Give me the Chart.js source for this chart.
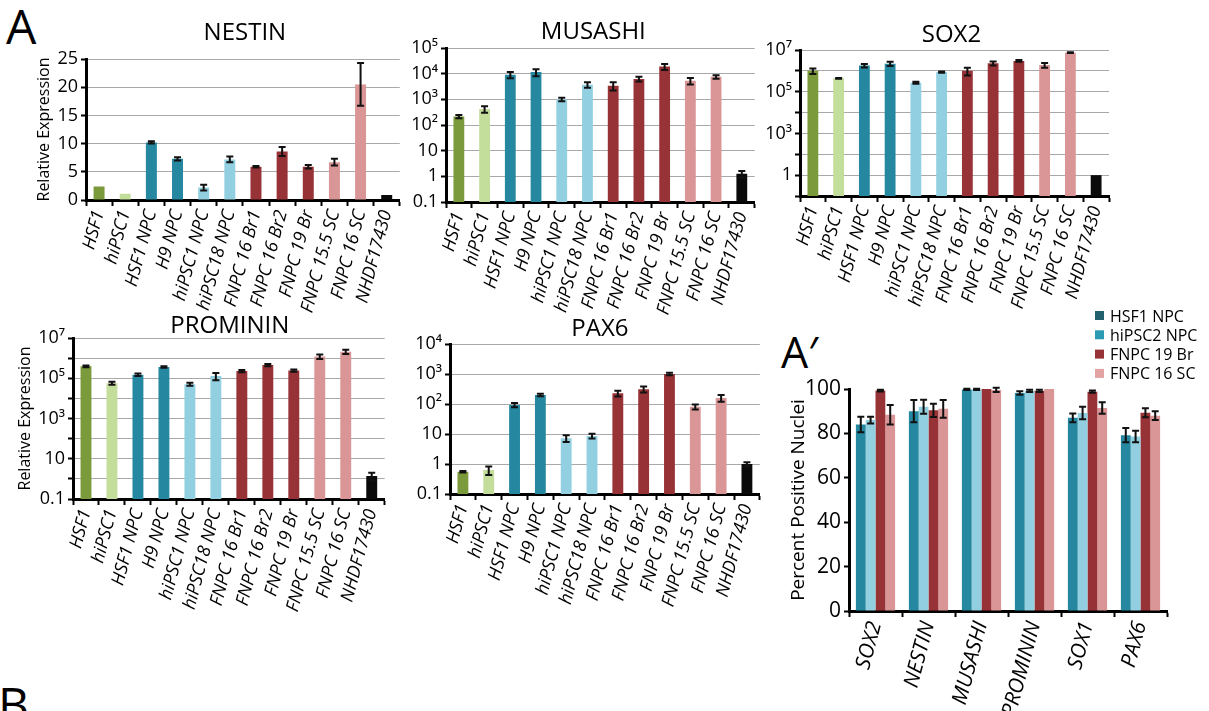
<!DOCTYPE html>
<html><head><meta charset="utf-8">
<script src="https://cdn.jsdelivr.net/npm/chart.js@4.4.0/dist/chart.umd.min.js"></script>
<style>
html,body{margin:0;padding:0;background:#fff;}
body{width:1209px;height:711px;position:relative;overflow:hidden;font-family:'Open Sans',sans-serif;}
.panel{position:absolute;}
.panel canvas{display:block;}
.letter{position:absolute;font-family:'Open Sans',sans-serif;line-height:1;color:#000;font-weight:400;}
</style></head><body>
<div class="letter" style="left:6px;top:2px;font-size:48px">A</div>
<div class="letter" style="left:781px;top:330px;font-size:43px">A′</div>
<div class="letter" style="left:-2px;top:680px;font-size:48px">B</div>

<div class="panel" style="left:0;top:0"><canvas id="nestin" width="410" height="325"></canvas></div>
<div class="panel" style="left:405px;top:0"><canvas id="musashi" width="360" height="325"></canvas></div>
<div class="panel" style="left:760px;top:0"><canvas id="sox2" width="360" height="325"></canvas></div>
<div class="panel" style="left:0;top:290px"><canvas id="prominin" width="395" height="335"></canvas></div>
<div class="panel" style="left:405px;top:290px"><canvas id="pax6" width="365" height="335"></canvas></div>
<div class="panel" style="left:770px;top:260px"><canvas id="aprime" width="439" height="451"></canvas></div>

<script>
// ---------------- DATA ----------------
const categories = ['HSF1','hiPSC1','HSF1 NPC','H9 NPC','hiPSC1 NPC','hiPSC18 NPC','FNPC 16 Br1','FNPC 16 Br2','FNPC 19 Br','FNPC 15.5 SC','FNPC 16 SC','NHDF17430'];

const nestinValues = [2.4, 1.1, 10.2, 7.3, 2.2, 7.2, 5.9, 8.6, 5.9, 6.7, 20.5, 0.9];
const nestinErrors = [0, 0, 0.2, 0.3, 0.5, 0.5, 0.15, 0.8, 0.3, 0.6, 3.8, 0];

const musashiValues = [215, 420, 9100, 11500, 1000, 3700, 3400, 6200, 19000, 5300, 7500, 1.26];
const musashiErrors = [30, 120, 2500, 3500, 150, 900, 1200, 1300, 5000, 1500, 1200, 0.35];

const sox2Values = [1.0e6, 4.4e5, 1.8e6, 2.2e6, 2.7e5, 8.7e5, 1.0e6, 2.3e6, 3.0e6, 1.9e6, 7.4e6, 10];
const sox2Errors = [3e5, 2e4, 3.5e5, 5e5, 3e4, 5e4, 4e5, 5e5, 3e5, 5e5, 3e5, 0];

const promininValues = [3.9e5, 5.7e4, 1.5e5, 3.6e5, 5.1e4, 1.3e5, 2.3e5, 4.5e5, 2.4e5, 1.2e6, 2.1e6, 1.4];
const promininErrors = [4e4, 1e4, 2e4, 3e4, 8e3, 5e4, 3e4, 6e4, 3e4, 3e5, 5e5, 0.6];

const pax6Values = [0.55, 0.63, 93, 200, 7.2, 8.6, 228, 310, 1000, 81, 158, 1.0];
const pax6Errors = [0.03, 0.2, 15, 20, 1.8, 1.5, 50, 70, 100, 15, 40, 0.15];

// tick values and tick labels
const nestinTickStep = 5;
const musashiTicks = [0.1, 1, 10, 100, 1e3, 1e4, 1e5];
const musashiTickLabels = ['0.1', '1', '10', '10²', '10³', '10⁴', '10⁵'];
const sox2Ticks = [1, 10, 100, 1e3, 1e4, 1e5, 1e6, 1e7];
const sox2TickLabels = ['', '1', '', '10³', '', '10⁵', '', '10⁷'];
const promininTicks = [0.1, 1, 10, 100, 1e3, 1e4, 1e5, 1e6, 1e7];
const promininTickLabels = ['0.1', '', '10', '', '10³', '', '10⁵', '', '10⁷'];
const pax6Ticks = [0.1, 1, 10, 100, 1e3, 1e4];
const pax6TickLabels = ['0.1', '1', '10', '10²', '10³', '10⁴'];

const markers = ['SOX2','NESTIN','MUSASHI','PROMININ','SOX1','PAX6'];
const seriesNames = ['HSF1 NPC','hiPSC2 NPC','FNPC 19 Br','FNPC 16 SC'];
const hsf1NpcPct   = [84, 90, 99.8, 98.2, 87, 79.2];
const hsf1NpcErr   = [3.5, 5, 0.3, 0.8, 2, 3.2];
const hipsc2NpcPct = [86, 92, 99.8, 99.2, 89.2, 78.6];
const hipsc2NpcErr = [1.5, 3.2, 0.3, 0.5, 2.8, 2.6];
const fnpc19BrPct  = [99.3, 90.4, 100, 99.2, 98.8, 89.3];
const fnpc19BrErr  = [0.4, 3, 0, 0.5, 0.5, 2];
const fnpc16ScPct  = [88.4, 91.1, 99.6, 100, 91.4, 88];
const fnpc16ScErr  = [4.4, 4, 1, 0, 2.6, 2];

// ---------------- STYLES ----------------
const FONT = "'Open Sans', 'Noto Sans', 'DejaVu Sans', sans-serif";
Chart.defaults.font.family = FONT;
Chart.defaults.color = '#000';
const C = {green:'#7b9a3c', lgreen:'#c3dd9b', teal:'#2587a0', lblue:'#92cfe0', red:'#973236', pink:'#da9596', black:'#0a0a0a'};
const barColors = [C.green, C.lgreen, C.teal, C.teal, C.lblue, C.lblue, C.red, C.red, C.red, C.pink, C.pink, C.black];
const aBarColors = [C.teal, C.lblue, C.red, C.pink];
const aLegendColors = ['#22616d', '#2b9bb3', '#973236', '#e3a3a3'];
const LABEL_ROT = 75;

// ---------------- PLUGINS ----------------
const errorBarPlugin = {
  id: 'errorBars',
  afterDatasetsDraw(chart) {
    const ctx = chart.ctx, y = chart.scales.y;
    chart.data.datasets.forEach((ds, di) => {
      if (!ds.errors) return;
      const meta = chart.getDatasetMeta(di);
      meta.data.forEach((bar, i) => {
        const v = ds.data[i], e = ds.errors[i];
        if (!e) return;
        const yTop = y.getPixelForValue(v + e);
        const yBot = y.getPixelForValue(Math.max(v - e, y.min));
        const cap = 3.5;
        ctx.save();
        ctx.strokeStyle = '#111'; ctx.lineWidth = 2;
        ctx.beginPath();
        ctx.moveTo(bar.x, yTop); ctx.lineTo(bar.x, yBot);
        ctx.moveTo(bar.x - cap, yTop); ctx.lineTo(bar.x + cap, yTop);
        ctx.moveTo(bar.x - cap, yBot); ctx.lineTo(bar.x + cap, yBot);
        ctx.stroke();
        ctx.restore();
      });
    });
  }
};
const panelTitlePlugin = {
  id: 'panelTitle',
  afterDraw(chart, args, opts) {
    if (!opts || !opts.text) return;
    const {ctx, chartArea} = chart;
    ctx.save();
    ctx.font = (opts.size || 24) + 'px ' + FONT;
    ctx.fillStyle = '#000'; ctx.textAlign = 'center'; ctx.textBaseline = 'middle';
    ctx.fillText(opts.text, (chartArea.left + chartArea.right) / 2 + (opts.dx || 0), chartArea.top - opts.offset);
    ctx.restore();
  }
};
const sideLegendPlugin = {
  id: 'sideLegend',
  afterDraw(chart, args, opts) {
    if (!opts || opts.x === undefined) return;
    const ctx = chart.ctx;
    ctx.save();
    ctx.font = opts.size + 'px ' + FONT;
    ctx.textBaseline = 'middle'; ctx.textAlign = 'left';
    chart.data.datasets.forEach((ds, i) => {
      const yy = opts.y + i * opts.spacing;
      ctx.fillStyle = opts.colors[i];
      ctx.fillRect(opts.x, yy - 6, 9, 9);
      ctx.fillStyle = '#000';
      ctx.fillText(ds.label, opts.x + 15, yy);
    });
    ctx.restore();
  }
};
Chart.register(errorBarPlugin, panelTitlePlugin, sideLegendPlugin);

// ---------------- BUILDERS ----------------
function xScale(fontSize, height) {
  return {
    type: 'category',
    grid: {display: true, drawOnChartArea: false, drawTicks: true, tickLength: 6, tickColor: '#000', tickWidth: 2, offset: true},
    border: {display: true, color: '#000', width: 3},
    ticks: {minRotation: LABEL_ROT, maxRotation: LABEL_ROT, autoSkip: false, color: '#000', padding: 2,
            font: {family: FONT, size: fontSize, style: 'italic'}},
    afterFit: s => { s.height = height; }
  };
}
function yCommon(width, titleText, titleSize) {
  return {
    grid: {color: '#a9a9a9', lineWidth: 1, drawTicks: true, tickLength: 5, tickColor: '#000', tickWidth: 2},
    border: {display: true, color: '#000', width: 3},
    title: {display: !!titleText, text: titleText || '', font: {family: FONT, size: titleSize || 16}, color: '#000', padding: {top: 4, bottom: 4}},
    afterFit: s => { s.width = width; }
  };
}
function logY(width, tickVals, tickLabels, titleText) {
  const y = yCommon(width, titleText, 16);
  y.type = 'logarithmic';
  y.min = tickVals[0];
  y.max = tickVals[tickVals.length - 1];
  y.afterBuildTicks = s => { s.ticks = tickVals.map(v => ({value: v})); };
  y.ticks = {font: {family: FONT, size: 18}, color: '#000', padding: 3, autoSkip: false,
             callback: (v, i) => tickLabels[i]};
  return y;
}
function smallChart(id, values, errors, yScale, geom, title) {
  return new Chart(document.getElementById(id), {
    type: 'bar',
    data: {labels: categories, datasets: [{data: values, errors: errors, backgroundColor: barColors,
      barPercentage: 0.42, categoryPercentage: 1.0, borderWidth: 0}]},
    options: {
      responsive: false, animation: false,
      layout: {padding: geom.padding},
      plugins: {legend: {display: false}, tooltip: {enabled: false},
                panelTitle: {text: title, offset: geom.titleOffset, dx: geom.titleDx || 0, size: 24}},
      scales: {x: xScale(18, geom.xHeight), y: yScale}
    }
  });
}

// ---------------- CHARTS ----------------
const nestinY = yCommon(55, 'Relative Expression', 16);
nestinY.type = 'linear'; nestinY.min = 0; nestinY.max = 25;
nestinY.ticks = {stepSize: nestinTickStep, font: {family: FONT, size: 18}, color: '#000', padding: 3};
smallChart('nestin', nestinValues, nestinErrors, nestinY,
  {padding: {left: 31, top: 59, right: 10, bottom: 0}, xHeight: 125, titleOffset: 26, titleDx: 2}, 'NESTIN');

smallChart('musashi', musashiValues, musashiErrors, logY(41, musashiTicks, musashiTickLabels),
  {padding: {left: 0, top: 48, right: 8, bottom: 0}, xHeight: 123, titleOffset: 16, titleDx: -7}, 'MUSASHI');

smallChart('sox2', sox2Values, sox2Errors, logY(40, sox2Ticks, sox2TickLabels),
  {padding: {left: 0, top: 50, right: 11, bottom: 0}, xHeight: 129, titleOffset: 15, titleDx: -3}, 'SOX2');

smallChart('prominin', promininValues, promininErrors, logY(61, promininTicks, promininTickLabels, 'Relative Expression'),
  {padding: {left: 12, top: 48, right: 10, bottom: 0}, xHeight: 126, titleOffset: 12, titleDx: 1}, 'PROMININ');

smallChart('pax6', pax6Values, pax6Errors, logY(45, pax6Ticks, pax6TickLabels),
  {padding: {left: 0, top: 54, right: 5, bottom: 0}, xHeight: 131, titleOffset: 15, titleDx: -5}, 'PAX6');

// A' grouped chart
const aPct = [hsf1NpcPct, hipsc2NpcPct, fnpc19BrPct, fnpc16ScPct];
const aErr = [hsf1NpcErr, hipsc2NpcErr, fnpc19BrErr, fnpc16ScErr];
const aY = yCommon(66, 'Percent Positive Nuclei', 19);
aY.type = 'linear'; aY.min = 0; aY.max = 100;
aY.grid = {drawOnChartArea: false, drawTicks: true, tickLength: 5, tickColor: '#000', tickWidth: 2};
aY.ticks = {stepSize: 10, font: {family: FONT, size: 21}, color: '#000', padding: 3,
            callback: v => (v % 20 === 0 ? String(v) : '')};
new Chart(document.getElementById('aprime'), {
  type: 'bar',
  data: {labels: markers, datasets: seriesNames.map((n, i) => ({
    label: n, data: aPct[i], errors: aErr[i], backgroundColor: aBarColors[i],
    barPercentage: 1.0, categoryPercentage: 0.74, borderWidth: 0}))},
  options: {
    responsive: false, animation: false,
    layout: {padding: {left: 13, top: 129, right: 42, bottom: 0}},
    plugins: {legend: {display: false}, tooltip: {enabled: false},
              sideLegend: {x: 325, y: 57, spacing: 19.3, size: 16, colors: aLegendColors}},
    scales: {x: xScale(21, 100), y: aY}
  }
});
</script>
</body></html>
